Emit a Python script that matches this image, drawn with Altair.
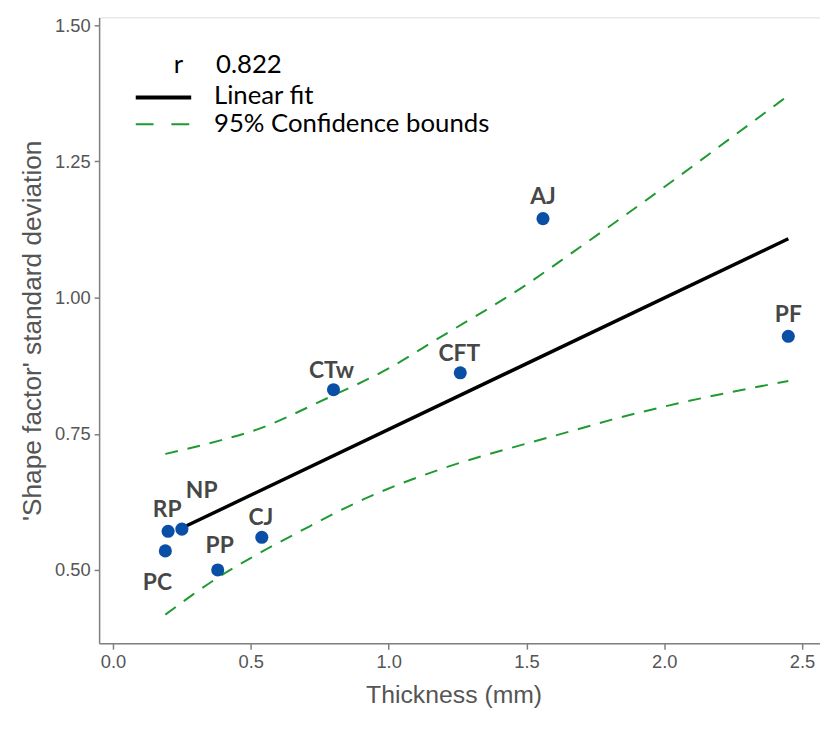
import altair as alt
import pandas as pd

# ---- data ----
names = ["PC", "RP", "NP", "PP", "CJ", "CTw", "CFT", "AJ", "PF"]
thickness = [0.19, 0.20, 0.25, 0.38, 0.54, 0.80, 1.26, 1.56, 2.45]
shape_sd = [0.535, 0.571, 0.575, 0.500, 0.560, 0.831, 0.862, 1.145, 0.929]

fit_x = [0.25, 2.45]
fit_y = [0.577, 1.108]

upper_x = [0.19, 0.39, 0.50, 0.78, 1.00, 1.17, 1.50, 1.67, 2.00, 2.26, 2.45]
upper_y = [0.713, 0.738, 0.754, 0.816, 0.870, 0.922, 1.024, 1.084, 1.203, 1.300, 1.371]

lower_x = [0.19, 0.39, 0.50, 0.69, 0.91, 1.20, 1.50, 1.67, 1.81, 2.00, 2.45]
lower_y = [0.418, 0.489, 0.522, 0.574, 0.630, 0.687, 0.732, 0.756, 0.776, 0.800, 0.847]

x_ticks = [0.0, 0.5, 1.0, 1.5, 2.0, 2.5]
y_ticks = [0.50, 0.75, 1.00, 1.25, 1.50]
r_value = "0.822"

# ---- tables ----
pts = pd.DataFrame({"name": names, "x": thickness, "y": shape_sd})
fit = pd.DataFrame({"x": fit_x, "y": fit_y})
up = pd.DataFrame({"x": upper_x, "y": upper_y})
lo = pd.DataFrame({"x": lower_x, "y": lower_y})

XDOM = [-0.0503, 2.565]
YDOM = [0.3655, 1.5145]

AXIS_FONT = "Liberation Sans"
LBL_FONT = "Lato"
LEG_FONT = "Lato"

xs = alt.Scale(domain=XDOM, nice=False, zero=False)
ys = alt.Scale(domain=YDOM, nice=False, zero=False)

xax = alt.Axis(values=x_ticks, format=".1f", title="Thickness (mm)", grid=False,
               labelFont=AXIS_FONT, labelFontSize=18.5, labelColor="#555555",
               titleFont=AXIS_FONT, titleFontSize=25, titleFontWeight="normal",
               titleColor="#555555", titlePadding=11, titleX=358,
               tickColor="#7f7f7f", tickSize=6, tickWidth=1.5, labelPadding=4,
               domainColor="#7f7f7f", domainWidth=1.5)
yax = alt.Axis(values=y_ticks, format=".2f", title="'Shape factor' standard deviation",
               grid=False, labelFont=AXIS_FONT, labelFontSize=18.5, labelColor="#555555",
               titleFont=AXIS_FONT, titleFontSize=26.5, titleFontWeight="normal",
               titleColor="#555555", titlePadding=8,
               tickColor="#7f7f7f", tickSize=5, tickWidth=1.5, labelPadding=4,
               domainColor="#7f7f7f", domainWidth=1.5)

base_x = alt.X("x:Q", scale=xs, axis=xax)
base_y = alt.Y("y:Q", scale=ys, axis=yax)

GREEN = "#1f9a32"
dash = [13, 10]

upper = alt.Chart(up).mark_line(color=GREEN, strokeWidth=2, strokeDash=dash,
                                interpolate="monotone").encode(
    x=base_x, y=base_y, order="x:Q")
lower = alt.Chart(lo).mark_line(color=GREEN, strokeWidth=2, strokeDash=dash,
                                interpolate="monotone").encode(
    x=alt.X("x:Q", scale=xs), y=alt.Y("y:Q", scale=ys), order="x:Q")
fitline = alt.Chart(fit).mark_line(color="black", strokeWidth=3.5).encode(
    x=alt.X("x:Q", scale=xs), y=alt.Y("y:Q", scale=ys))
points = alt.Chart(pts).mark_circle(size=175, opacity=1, color="#0a4fa6").encode(
    x=alt.X("x:Q", scale=xs), y=alt.Y("y:Q", scale=ys))

# label placement (styling)
offsets = {"PC": (-8, 32), "RP": (-1, -21), "NP": (20, -38), "PP": (2, -24),
           "CJ": (-1, -19), "CTw": (-2, -19), "CFT": (-1, -19), "AJ": (0, -22),
           "PF": (0, -21)}
label_layers = []
for n in names:
    dx, dy = offsets[n]
    label_layers.append(
        alt.Chart(pts).transform_filter(alt.datum.name == n).mark_text(
            font=LBL_FONT, fontSize=23, fontWeight="bold", color="#474747",
            dx=dx, dy=dy, baseline="middle", align="center"
        ).encode(x=alt.X("x:Q", scale=xs), y=alt.Y("y:Q", scale=ys), text="name:N")
    )

# legend (decoration)
leg_df = pd.DataFrame({"a": [0]})
leg_r = alt.Chart(leg_df).mark_text(font=LEG_FONT, fontSize=26, align="center",
                                    baseline="middle", color="black").encode(
    x=alt.value(80), y=alt.value(48), text=alt.value("r"))
leg_rv = alt.Chart(leg_df).mark_text(font=LEG_FONT, fontSize=26, align="left",
                                     baseline="middle", color="black").encode(
    x=alt.value(118), y=alt.value(48), text=alt.value(r_value))
leg_l1 = alt.Chart(leg_df).mark_rule(color="black", strokeWidth=4).encode(
    x=alt.value(37), x2=alt.value(93), y=alt.value(81))
leg_t1 = alt.Chart(leg_df).mark_text(font=LEG_FONT, fontSize=26, align="left",
                                     baseline="middle", color="black").encode(
    x=alt.value(116), y=alt.value(79), text=alt.value("Linear fit"))
leg_l2 = alt.Chart(leg_df).mark_rule(color=GREEN, strokeWidth=2, strokeDash=[18, 18]).encode(
    x=alt.value(37), x2=alt.value(93), y=alt.value(108))
leg_t2 = alt.Chart(leg_df).mark_text(font=LEG_FONT, fontSize=26, align="left",
                                     baseline="middle", color="black").encode(
    x=alt.value(116), y=alt.value(108), text=alt.value("95% Confidence bounds"))

chart = alt.layer(
    upper, lower, fitline, points, *label_layers,
    leg_r, leg_rv, leg_l1, leg_t1, leg_l2, leg_t2
).properties(
    width=728, height=632,
    autosize=alt.AutoSizeParams(type="none"),
    padding={"left": 92, "top": 6, "right": 0, "bottom": 70},
).configure_view(
    stroke="#7f7f7f", strokeWidth=1.5
).configure(background="white")

chart.save("out.html", embed_options={"renderer": "svg", "actions": False})
